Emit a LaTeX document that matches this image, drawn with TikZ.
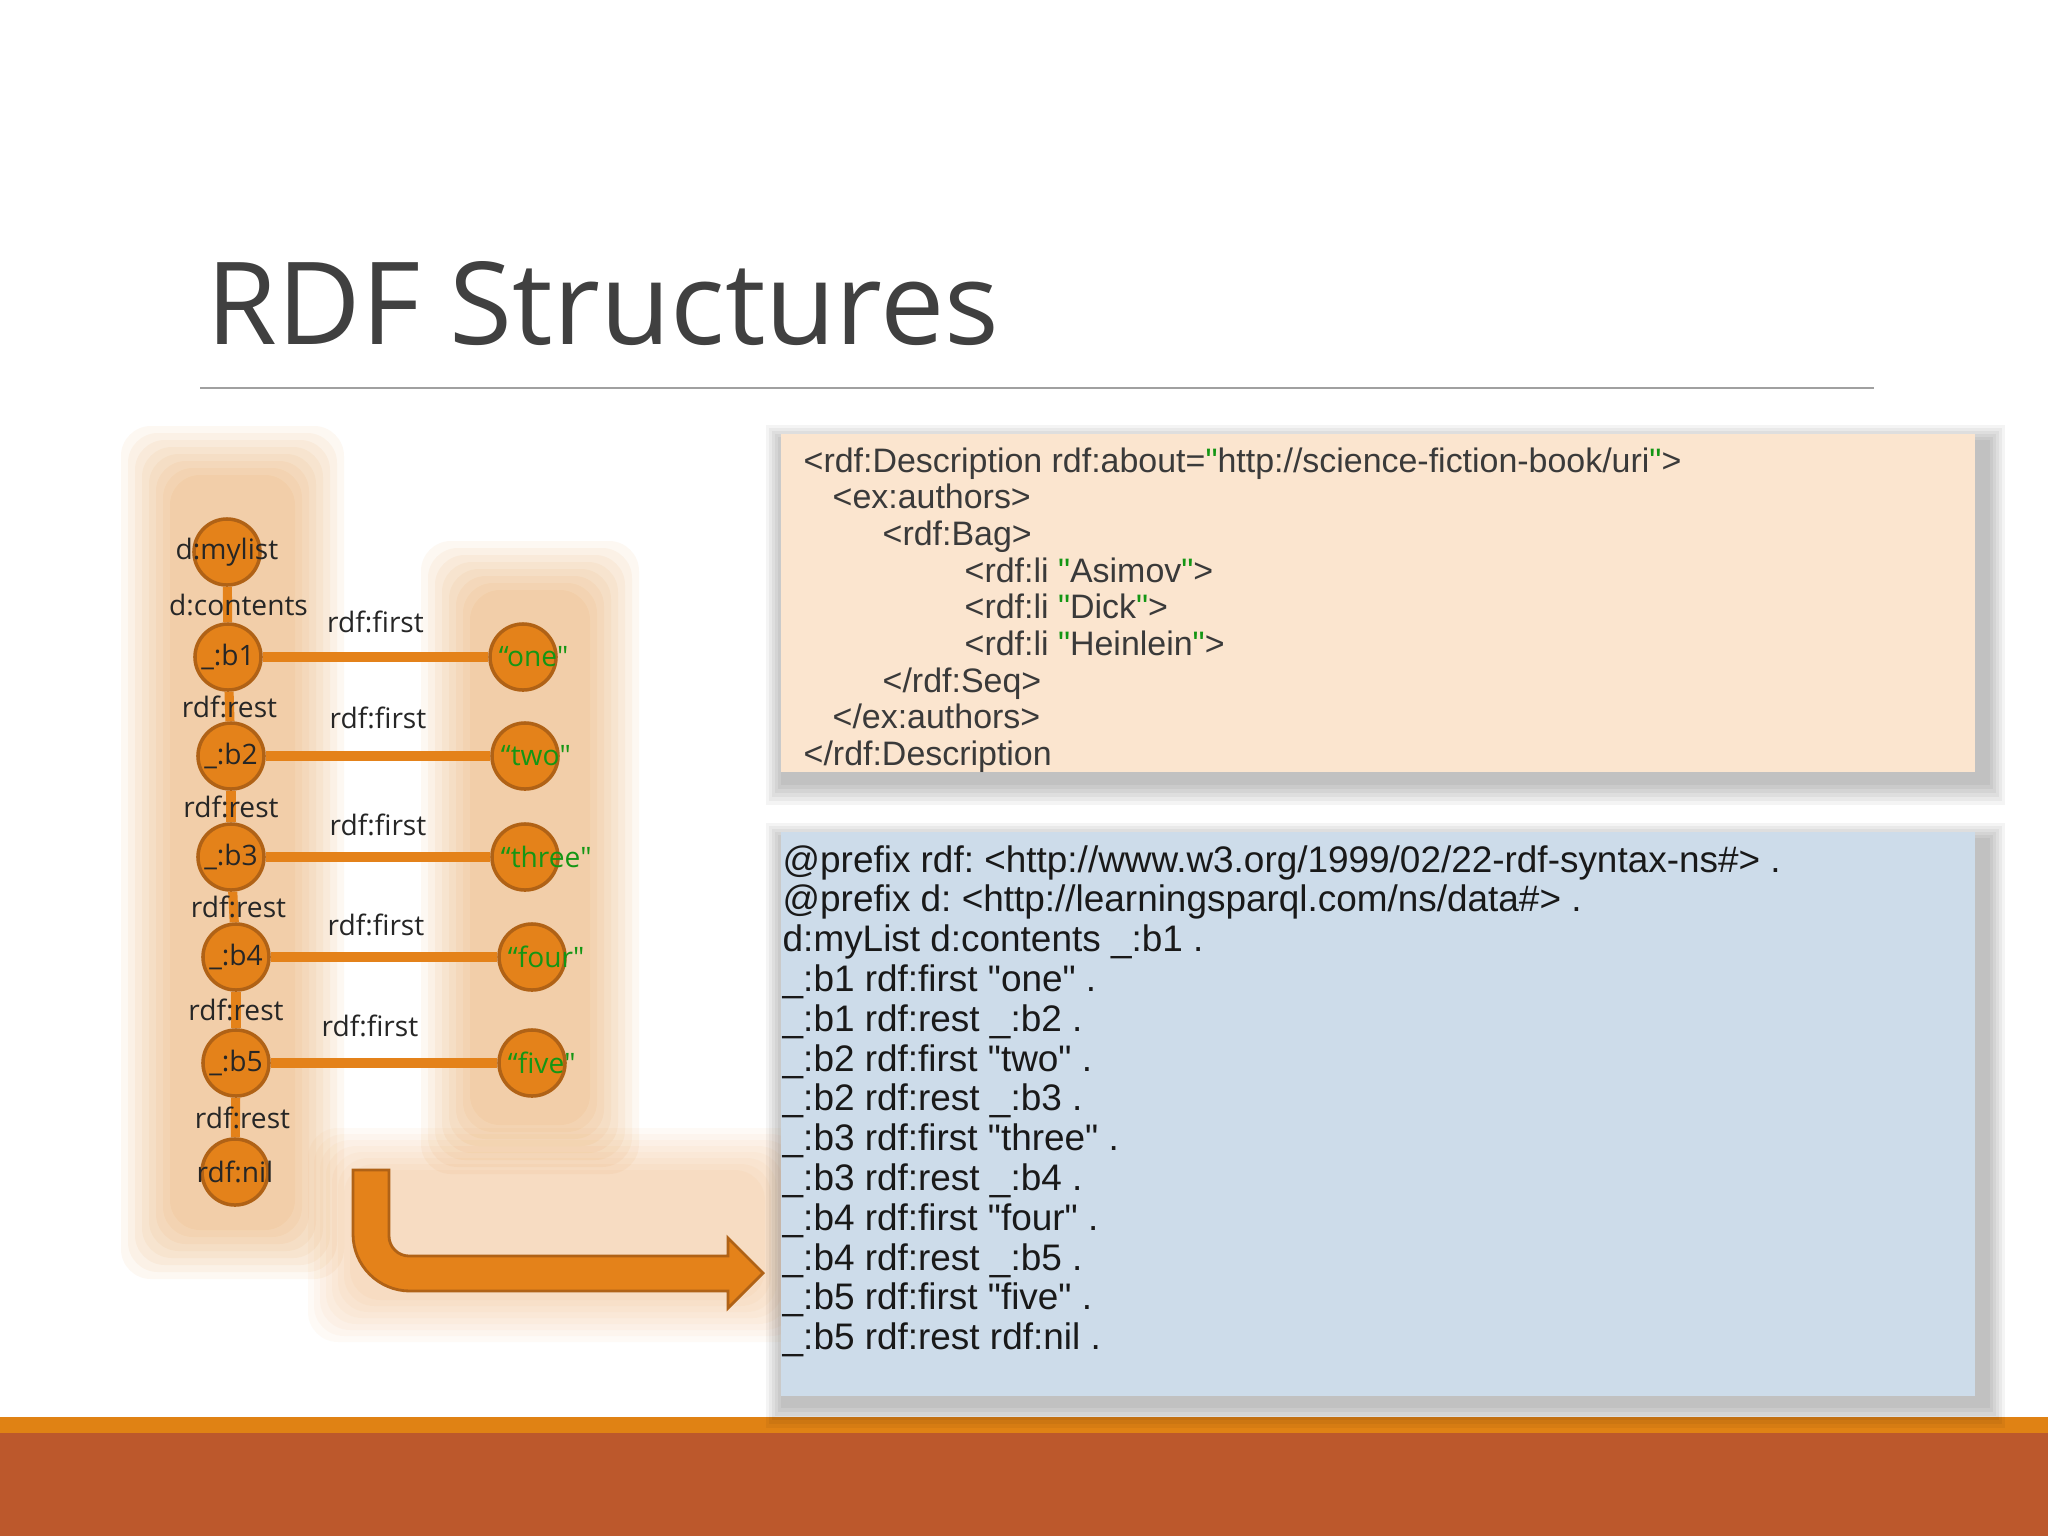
\documentclass[tikz,border=0pt]{standalone}
\usepackage{fontspec}
\setmainfont{Liberation Sans}
\newfontfamily\segoe{Open Sans}
\usetikzlibrary{positioning}
\frenchspacing

\definecolor{rdforange}{RGB}{228,130,26}
\definecolor{rdfedge}{RGB}{176,98,22}
\definecolor{litgreen}{RGB}{20,150,20}
\definecolor{inktext}{RGB}{38,38,38}
\definecolor{codegray}{RGB}{58,58,58}
\definecolor{peach}{RGB}{251,229,207}
\definecolor{paleblue}{RGB}{205,220,234}
\definecolor{bandorange}{RGB}{224,130,20}
\definecolor{bandrust}{RGB}{188,88,44}
\definecolor{titlegray}{RGB}{64,64,64}
\definecolor{rulegray}{RGB}{160,160,160}

\newcommand{\dq}{\textquotedbl}
\newcommand{\gq}{\textcolor{litgreen}{\textquotedbl}}

\tikzset{
  blob/.style={circle, draw=rdfedge, line width=1pt, fill=rdforange, minimum size=0.66cm, inner sep=0pt},
  link/.style={rdforange, line width=2.6pt},
  prop/.style={font=\segoe\fontsize{8}{9}\selectfont, text=inktext, inner sep=0pt},
  lit/.style={font=\segoe\fontsize{8}{9}\selectfont, text=litgreen, inner sep=0pt, anchor=west, xshift=0.1cm},
  xmlline/.style={font=\fontsize{9.65}{11}\selectfont, text=codegray, anchor=base west, inner sep=0pt},
  ttlline/.style={font=\fontsize{10.5}{12}\selectfont, text=black!90, anchor=base west, inner sep=0pt},
}

\begin{document}
\begin{tikzpicture}[x=0.01cm, y=-0.01cm]
  \useasboundingbox (0,0) rectangle (2048,1536);
  \fill[white] (0,0) rectangle (2048,1536);

  % footer band
  \fill[bandorange] (0,1417) rectangle (2048,1433);
  \fill[bandrust] (0,1433) rectangle (2048,1536);

  % soft glow behind the list
  \foreach \g in {0,...,7} {
    \fill[rdforange, opacity=0.055, rounded corners=0.3cm] (170-\g*7,475-\g*7) rectangle (295+\g*7,1230+\g*7);
    \fill[rdforange, opacity=0.055, rounded corners=0.3cm] (470-\g*7,590-\g*7) rectangle (590+\g*7,1125+\g*7);
    \fill[rdforange, opacity=0.035, rounded corners=0.3cm] (350-\g*6,1170-\g*6) rectangle (765+\g*6,1300+\g*6);
  }

  % box shadows
  \foreach \g in {0,...,5} {
    \fill[black, opacity=0.045] (781-\g*3,440-\g*3) rectangle (1990+\g*3,785+\g*4);
    \fill[black, opacity=0.045] (781-\g*3,838-\g*3) rectangle (1990+\g*3,1408+\g*4);
  }

  % code boxes
  \fill[peach] (781,434) rectangle (1975,772);
  \fill[paleblue] (781,832) rectangle (1975,1396);

  % RDF/XML
  \node[xmlline] (x1) at (803,472.0) {<rdf:Description rdf:about=\gq{}http://science-fiction-book/uri\gq{}>};
  \node[xmlline] (x2) at (832,508.7) {<ex:authors>};
  \node[xmlline] (x3) at (882,545.4) {<rdf:Bag>};
  \node[xmlline] (x4) at (964,582.1) {<rdf:li \gq{}Asimov\gq{}>};
  \node[xmlline] (x5) at (964,618.8) {<rdf:li \gq{}Dick\gq{}>};
  \node[xmlline] (x6) at (964,655.5) {<rdf:li \gq{}Heinlein\gq{}>};
  \node[xmlline] (x7) at (882,692.2) {</rdf:Seq>};
  \node[xmlline] (x8) at (832,728.9) {</ex:authors>};
  \node[xmlline] (x9) at (803,765.6) {</rdf:Description};

  % Turtle
  \node[ttlline] (t1) at (782,872.0) {@prefix rdf: <http://www.w3.org/1999/02/22-rdf-syntax-ns\#> .};
  \node[ttlline] (t2) at (782,911.8) {@prefix d: <http://learningsparql.com/ns/data\#> .};
  \node[ttlline] (t3) at (782,951.6) {d:myList d:contents \_:b1 .};
  \node[ttlline] (t4) at (782,991.4) {\_:b1 rdf:first \dq{}one\dq{} .};
  \node[ttlline] (t5) at (782,1031.2) {\_:b1 rdf:rest \_:b2 .};
  \node[ttlline] (t6) at (782,1071.0) {\_:b2 rdf:first \dq{}two\dq{} .};
  \node[ttlline] (t7) at (782,1110.8) {\_:b2 rdf:rest \_:b3 .};
  \node[ttlline] (t8) at (782,1150.6) {\_:b3 rdf:first \dq{}three\dq{} .};
  \node[ttlline] (t9) at (782,1190.4) {\_:b3 rdf:rest \_:b4 .};
  \node[ttlline] (t10) at (782,1230.2) {\_:b4 rdf:first \dq{}four\dq{} .};
  \node[ttlline] (t11) at (782,1270.0) {\_:b4 rdf:rest \_:b5 .};
  \node[ttlline] (t12) at (782,1309.8) {\_:b5 rdf:first \dq{}five\dq{} .};
  \node[ttlline] (t13) at (782,1349.6) {\_:b5 rdf:rest rdf:nil .};

  % title
  \node[font=\segoe\fontsize{32.6}{40}\selectfont, text=titlegray, anchor=base west, inner sep=0pt] (title) at (206,344) {RDF Structures};
  \draw[rulegray, line width=0.6pt] (200,388) -- (1874,388);

  % the list
  \node[blob, label={[prop]center:{d:mylist}}] (mylist) at (227,552) {};
  \node[blob, label={[prop]center:{\_:b1}}] (b1) at (228,657) {};
  \node[blob, label={[prop]center:{\_:b2}}] (b2) at (231,756) {};
  \node[blob, label={[prop]center:{\_:b3}}] (b3) at (231,857) {};
  \node[blob, label={[prop]center:{\_:b4}}] (b4) at (236,957) {};
  \node[blob, label={[prop]center:{\_:b5}}] (b5) at (236,1063) {};
  \node[blob, label={[prop]center:{rdf:nil}}] (nil) at (235,1172) {};

  \node[blob, label={[lit]west:{“one\dq}}] (one) at (523,657) {};
  \node[blob, label={[lit]west:{“two\dq}}] (two) at (525,756) {};
  \node[blob, label={[lit]west:{“three\dq}}] (three) at (525,857) {};
  \node[blob, label={[lit]west:{“four\dq}}] (four) at (532,957) {};
  \node[blob, label={[lit]west:{“five\dq}}] (five) at (532,1063) {};

  \draw[link] (mylist) -- node[prop, xshift=0.11cm] (dc) {d:contents} (b1);
  \draw[link] (b1) -- node[prop] (r1) {rdf:rest} (b2);
  \draw[link] (b2) -- node[prop] (r2) {rdf:rest} (b3);
  \draw[link] (b3) -- node[prop, xshift=0.05cm] (r3) {rdf:rest} (b4);
  \draw[link] (b4) -- node[prop] (r4) {rdf:rest} (b5);
  \draw[link] (b5) -- node[prop, xshift=0.07cm] (r5) {rdf:rest} (nil);

  \draw[link] (b1) -- node[prop, yshift=0.35cm] (f1) {rdf:first} (one);
  \draw[link] (b2) -- node[prop, yshift=0.38cm] (f2) {rdf:first} (two);
  \draw[link] (b3) -- node[prop, yshift=0.32cm] (f3) {rdf:first} (three);
  \draw[link] (b4) -- node[prop, yshift=0.32cm, xshift=-0.08cm] (f4) {rdf:first} (four);
  \draw[link] (b5) -- node[prop, yshift=0.37cm, xshift=-0.14cm] (f5) {rdf:first} (five);

  % bent arrow to the turtle box
  \draw[fill=rdforange, draw=rdfedge, line width=0.8pt, line join=miter]
    (353,1170) -- (389,1170) -- (389,1236)
    .. controls (389,1247) and (398,1256) .. (409,1256)
    -- (728,1256) -- (728,1238) -- (763,1273) -- (728,1308) -- (728,1291) -- (410,1291)
    .. controls (378.5,1291) and (353,1265.5) .. (353,1234) -- cycle;

\end{tikzpicture}
\end{document}
